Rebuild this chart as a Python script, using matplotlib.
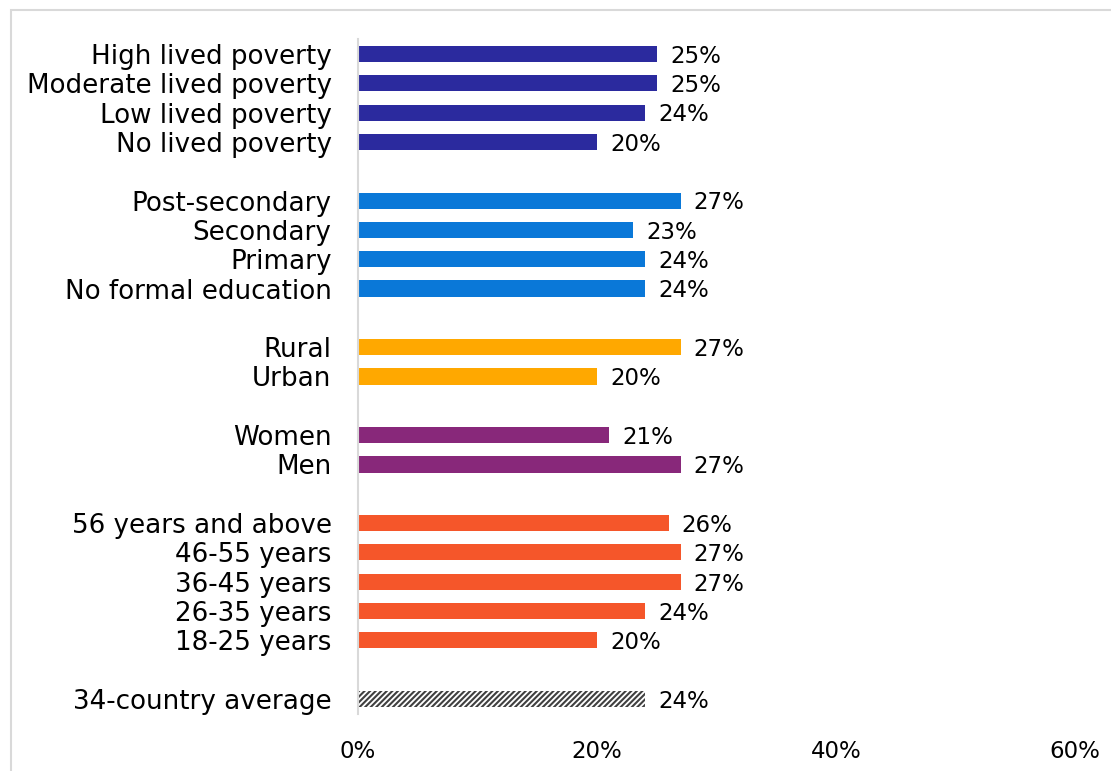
import matplotlib.pyplot as plt
from matplotlib.patches import Rectangle

# groups, top to bottom
poverty = ['High lived poverty', 'Moderate lived poverty', 'Low lived poverty', 'No lived poverty']
poverty_vals = [25, 25, 24, 20]
education = ['Post-secondary', 'Secondary', 'Primary', 'No formal education']
education_vals = [27, 23, 24, 24]
location = ['Rural', 'Urban']
location_vals = [27, 20]
gender = ['Women', 'Men']
gender_vals = [21, 27]
age = ['56 years and above', '46-55 years', '36-45 years', '26-35 years', '18-25 years']
age_vals = [26, 27, 27, 24, 20]
average = ['34-country average']
average_vals = [24]

groups = [
    (poverty, poverty_vals, '#2B2A9E'),
    (education, education_vals, '#0A78D8'),
    (location, location_vals, '#FFA800'),
    (gender, gender_vals, '#88287A'),
    (age, age_vals, '#F5562A'),
    (average, average_vals, None),
]

plt.rcParams['font.family'] = ['DejaVu Sans']
plt.rcParams['hatch.linewidth'] = 1.5
plt.rcParams['hatch.color'] = '#404040'

fig = plt.figure(figsize=(11.11, 7.71), dpi=100)
ax = fig.add_axes([358 / 1111, 1 - 713.7 / 771, (1075 - 358) / 1111, (713.7 - 39.3) / 771])

# light frame around the chart area
fig.patches.append(Rectangle((11 / 1111, -0.05), 1.1, 1.05 - 10 / 771, transform=fig.transFigure,
                             fill=False, edgecolor='#D9D9D9', linewidth=1.5))

pos = 0
ticks, labels = [], []
for names, vals, color in groups:
    for name, v in zip(names, vals):
        if color is None:
            ax.barh(pos, v, height=0.55, color='white', edgecolor='#404040', hatch='//////', linewidth=0)
        else:
            ax.barh(pos, v, height=0.55, color=color)
        ax.text(v + 1.1, pos + 0.08, f'{v}%', va='center', ha='left', fontsize=16.5, color='black')
        ticks.append(pos)
        labels.append(name)
        pos += 1
    pos += 1

ax.set_ylim(pos - 2 + 0.5, -0.5)
ax.set_xlim(0, 60)
ax.set_yticks(ticks)
ax.set_yticklabels(labels, fontsize=18.8)
ax.set_xticks([0, 20, 40, 60])
ax.set_xticklabels(['0%', '20%', '40%', '60%'], fontsize=16.5)
ax.tick_params(axis='y', length=0, pad=19)
ax.tick_params(axis='x', length=0, pad=19)
for side in ['top', 'right', 'bottom']:
    ax.spines[side].set_visible(False)
ax.spines['left'].set_color('#D9D9D9')
ax.spines['left'].set_linewidth(1.5)

fig.savefig('out.png', dpi=100)
